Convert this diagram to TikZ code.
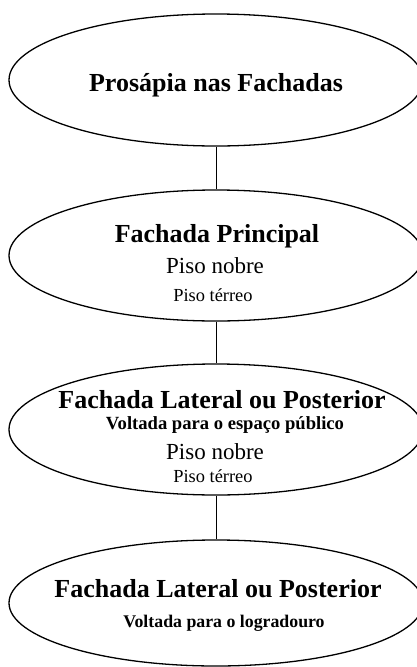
\documentclass[tikz,border=0pt]{standalone}
\usepackage{fontspec}
\setmainfont{Liberation Serif}
\usetikzlibrary{shapes.geometric}

\begin{document}
\begin{tikzpicture}[x=1pt,y=-1pt]
%% Styles
\tikzset{fachada/.style={draw, ellipse, line width=1.3pt, minimum width=414pt, inner sep=0pt}}
\tikzset{titulo/.style={anchor=base, inner sep=0pt, font=\rmfamily\bfseries\fontsize{26}{30}\selectfont}}
\tikzset{subtitulo/.style={anchor=base, inner sep=0pt, font=\rmfamily\bfseries\fontsize{#1}{22}\selectfont}}
\tikzset{nobre/.style={anchor=base, inner sep=0pt, font=\rmfamily\mdseries\fontsize{23}{27}\selectfont}}
\tikzset{terreo/.style={anchor=base, inner sep=0pt, font=\rmfamily\mdseries\fontsize{18.4}{22}\selectfont}}
\useasboundingbox (0,0) rectangle (417,667);

%% Ellipses
\foreach \n/\y/\h in {e1/80/132, e2/255.5/131, e3/429.5/131, e4/603/126}{
\node[fachada, minimum height=\h pt] (\n) at (216,\y) {};
}

%% Connectors
\foreach \a/\b in {e1/e2, e2/e3, e3/e4}{
\path[draw, line width=1pt] (\a.south) -- (\b.north);
}

% Prosapia
\node[titulo] (t1) at (216,91) {Prosápia nas Fachadas};

% Fachada principal
\node[titulo] (t2) at (217,242) {Fachada Principal};
\node[nobre] (n2) at (215,273) {Piso nobre};
\node[terreo] (r2) at (213,301) {Piso térreo};

% Fachada lateral, espaco publico
\node[titulo] (t3) at (222,408) {Fachada Lateral ou Posterior};
\node[subtitulo=18.6] (s3) at (225,429) {Voltada para o espaço público};
\node[nobre] (n3) at (215,459) {Piso nobre};
\node[terreo] (r3) at (213,482) {Piso térreo};

% Fachada lateral, logradouro
\node[titulo] (t4) at (218,597) {Fachada Lateral ou Posterior};
\node[subtitulo=17.8] (s4) at (224,627) {Voltada para o logradouro};

\end{tikzpicture}
\end{document}
